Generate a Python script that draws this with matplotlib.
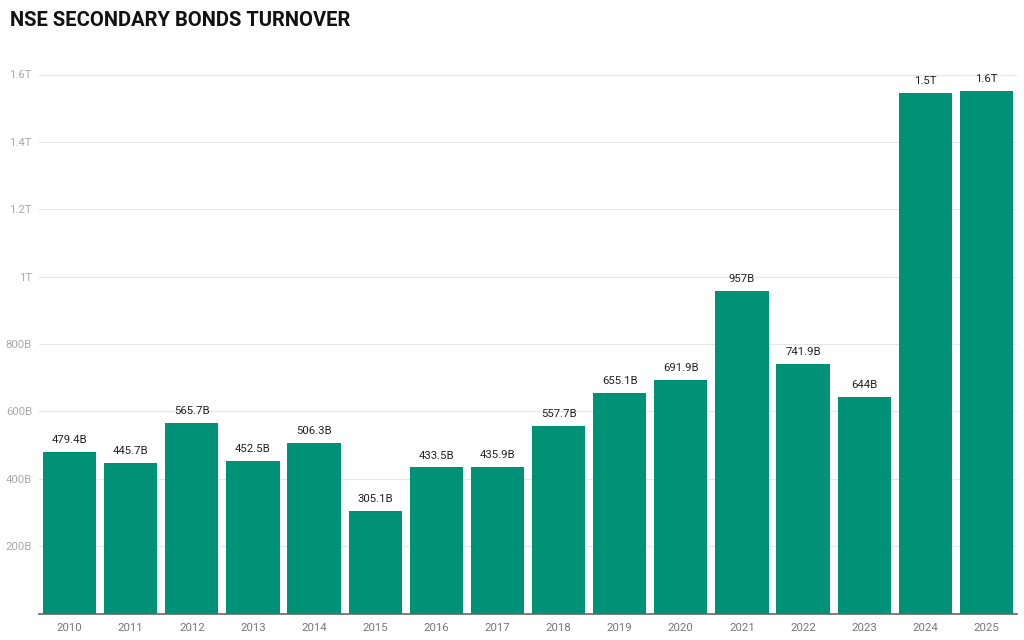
import matplotlib
matplotlib.use("Agg")
import matplotlib.pyplot as plt
import numpy as np

years = ["2010", "2011", "2012", "2013", "2014", "2015", "2016", "2017",
         "2018", "2019", "2020", "2021", "2022", "2023", "2024", "2025"]
# turnover in billions
turnover = [479.4, 445.7, 565.7, 452.5, 506.3, 305.1, 433.5, 435.9,
            557.7, 655.1, 691.9, 957.0, 741.9, 644.0, 1545.0, 1551.0]
labels = ["479.4B", "445.7B", "565.7B", "452.5B", "506.3B", "305.1B", "433.5B", "435.9B",
          "557.7B", "655.1B", "691.9B", "957B", "741.9B", "644B", "1.5T", "1.6T"]
yticks = [200, 400, 600, 800, 1000, 1200, 1400, 1600]
ytick_labels = ["200B", "400B", "600B", "800B", "1T", "1.2T", "1.4T", "1.6T"]

plt.rcParams["font.family"] = ["Roboto", "DejaVu Sans"]

fig = plt.figure(figsize=(10.24, 6.4), dpi=100)
ax = fig.add_axes([39 / 1024, 1 - 613.5 / 640, 978 / 1024, 539 / 640])

x = np.arange(len(years))
ax.bar(x, turnover, width=0.87, color="#009177", zorder=3)
for xi, v, lab in zip(x, turnover, labels):
    ax.annotate(lab, (xi, v), xytext=(0, 5), textcoords="offset points",
                ha="center", va="bottom", fontsize=8.2, color="#222222")

ax.set_xlim(-0.5, len(years) - 0.5)
ax.set_ylim(0, 1600)
ax.set_xticks(x)
ax.set_xticklabels(years, fontsize=8.2, color="#777777")
ax.set_yticks(yticks)
ax.set_yticklabels(ytick_labels, fontsize=8.2, color="#aaaaaa")
ax.tick_params(axis="both", length=0)
ax.tick_params(axis="y", pad=5)
ax.tick_params(axis="x", pad=7)
ax.grid(axis="y", color="#e6e6e6", linewidth=0.8, zorder=0)
for s in ["top", "right", "left"]:
    ax.spines[s].set_visible(False)
ax.spines["bottom"].set_color("#666666")
ax.spines["bottom"].set_linewidth(1.2)
ax.spines["bottom"].set_zorder(4)

fig.text(10 / 1024, 1 - 20 / 640, "NSE SECONDARY BONDS TURNOVER", fontsize=14.5,
         fontweight="bold", va="center", ha="left", color="#111111")

fig.savefig("out.png", dpi=100)
